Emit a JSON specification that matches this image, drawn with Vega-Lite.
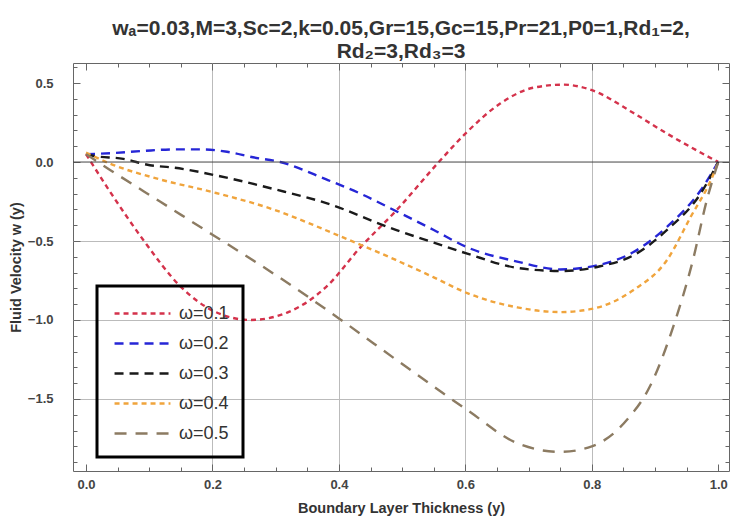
{
  "$schema": "https://vega.github.io/schema/vega-lite/v6.json",
  "autosize": "none",
  "width": 656,
  "height": 408,
  "padding": {"left": 73, "top": 63, "right": 3, "bottom": 53},
  "background": "white",
  "title": {
    "text": ["wₐ=0.03,M=3,Sc=2,k=0.05,Gr=15,Gc=15,Pr=21,P0=1,Rd₁=2,", "Rd₂=3,Rd₃=3"],
    "anchor": "middle",
    "font": "Liberation Sans",
    "fontSize": 21,
    "fontWeight": "bold",
    "color": "#333333",
    "lineHeight": 23,
    "offset": 1
  },
  "config": {
    "view": {"stroke": "#666666", "strokeWidth": 1},
    "axis": {
      "labelFont": "Liberation Sans",
      "labelFontSize": 13,
      "labelFontWeight": "bold",
      "labelColor": "#444444",
      "titleFont": "Liberation Sans",
      "titleFontSize": 14.5,
      "titleFontWeight": "bold",
      "titleColor": "#333333",
      "tickColor": "#666666",
      "gridColor": "#bbbbbb",
      "gridWidth": 1,
      "domain": false
    },
    "legend": {
      "labelFont": "Liberation Sans",
      "labelFontSize": 18,
      "labelColor": "#333333",
      "strokeColor": "#000000"
    }
  },
  "resolve": {"axis": {"x": "independent", "y": "independent"}},
  "layer": [
    {
      "data": {
        "values": [
          {"series": "ω=0.1", "x": 0.0, "y": 0.05},
          {"series": "ω=0.1", "x": 0.04, "y": -0.2},
          {"series": "ω=0.1", "x": 0.09, "y": -0.49},
          {"series": "ω=0.1", "x": 0.15, "y": -0.79},
          {"series": "ω=0.1", "x": 0.2, "y": -0.94},
          {"series": "ω=0.1", "x": 0.26, "y": -1.0},
          {"series": "ω=0.1", "x": 0.32, "y": -0.95},
          {"series": "ω=0.1", "x": 0.38, "y": -0.79},
          {"series": "ω=0.1", "x": 0.434, "y": -0.54},
          {"series": "ω=0.1", "x": 0.49, "y": -0.31},
          {"series": "ω=0.1", "x": 0.558, "y": 0.0},
          {"series": "ω=0.1", "x": 0.6, "y": 0.18},
          {"series": "ω=0.1", "x": 0.655, "y": 0.37},
          {"series": "ω=0.1", "x": 0.707, "y": 0.47},
          {"series": "ω=0.1", "x": 0.755, "y": 0.49},
          {"series": "ω=0.1", "x": 0.8, "y": 0.455},
          {"series": "ω=0.1", "x": 0.866, "y": 0.31},
          {"series": "ω=0.1", "x": 0.919, "y": 0.18},
          {"series": "ω=0.1", "x": 0.972, "y": 0.06},
          {"series": "ω=0.1", "x": 1.0, "y": 0.0},

          {"series": "ω=0.2", "x": 0.0, "y": 0.05},
          {"series": "ω=0.2", "x": 0.043, "y": 0.057},
          {"series": "ω=0.2", "x": 0.09, "y": 0.07},
          {"series": "ω=0.2", "x": 0.138, "y": 0.08},
          {"series": "ω=0.2", "x": 0.185, "y": 0.08},
          {"series": "ω=0.2", "x": 0.223, "y": 0.065},
          {"series": "ω=0.2", "x": 0.264, "y": 0.03},
          {"series": "ω=0.2", "x": 0.307, "y": 0.0},
          {"series": "ω=0.2", "x": 0.38, "y": -0.11},
          {"series": "ω=0.2", "x": 0.434, "y": -0.2},
          {"series": "ω=0.2", "x": 0.49, "y": -0.31},
          {"series": "ω=0.2", "x": 0.55, "y": -0.43},
          {"series": "ω=0.2", "x": 0.603, "y": -0.54},
          {"series": "ω=0.2", "x": 0.682, "y": -0.63},
          {"series": "ω=0.2", "x": 0.75, "y": -0.68},
          {"series": "ω=0.2", "x": 0.813, "y": -0.65},
          {"series": "ω=0.2", "x": 0.866, "y": -0.57},
          {"series": "ω=0.2", "x": 0.919, "y": -0.41},
          {"series": "ω=0.2", "x": 0.972, "y": -0.18},
          {"series": "ω=0.2", "x": 1.0, "y": 0.0},

          {"series": "ω=0.3", "x": 0.0, "y": 0.05},
          {"series": "ω=0.3", "x": 0.011, "y": 0.04},
          {"series": "ω=0.3", "x": 0.059, "y": 0.02},
          {"series": "ω=0.3", "x": 0.101, "y": -0.02},
          {"series": "ω=0.3", "x": 0.138, "y": -0.035},
          {"series": "ω=0.3", "x": 0.212, "y": -0.09},
          {"series": "ω=0.3", "x": 0.296, "y": -0.17},
          {"series": "ω=0.3", "x": 0.38, "y": -0.26},
          {"series": "ω=0.3", "x": 0.49, "y": -0.43},
          {"series": "ω=0.3", "x": 0.55, "y": -0.51},
          {"series": "ω=0.3", "x": 0.603, "y": -0.58},
          {"series": "ω=0.3", "x": 0.682, "y": -0.67},
          {"series": "ω=0.3", "x": 0.75, "y": -0.69},
          {"series": "ω=0.3", "x": 0.813, "y": -0.66},
          {"series": "ω=0.3", "x": 0.866, "y": -0.59},
          {"series": "ω=0.3", "x": 0.919, "y": -0.43},
          {"series": "ω=0.3", "x": 0.972, "y": -0.2},
          {"series": "ω=0.3", "x": 1.0, "y": 0.0},

          {"series": "ω=0.4", "x": 0.0, "y": 0.06},
          {"series": "ω=0.4", "x": 0.038, "y": -0.01},
          {"series": "ω=0.4", "x": 0.117, "y": -0.11},
          {"series": "ω=0.4", "x": 0.2, "y": -0.19},
          {"series": "ω=0.4", "x": 0.296, "y": -0.3},
          {"series": "ω=0.4", "x": 0.402, "y": -0.47},
          {"series": "ω=0.4", "x": 0.49, "y": -0.62},
          {"series": "ω=0.4", "x": 0.55, "y": -0.73},
          {"series": "ω=0.4", "x": 0.603, "y": -0.83},
          {"series": "ω=0.4", "x": 0.682, "y": -0.92},
          {"series": "ω=0.4", "x": 0.75, "y": -0.95},
          {"series": "ω=0.4", "x": 0.8, "y": -0.93},
          {"series": "ω=0.4", "x": 0.866, "y": -0.81},
          {"series": "ω=0.4", "x": 0.919, "y": -0.62},
          {"series": "ω=0.4", "x": 0.956, "y": -0.35},
          {"series": "ω=0.4", "x": 0.99, "y": -0.1},
          {"series": "ω=0.4", "x": 1.0, "y": 0.0},

          {"series": "ω=0.5", "x": 0.0, "y": 0.05},
          {"series": "ω=0.5", "x": 0.038, "y": -0.05},
          {"series": "ω=0.5", "x": 0.117, "y": -0.25},
          {"series": "ω=0.5", "x": 0.2, "y": -0.46},
          {"series": "ω=0.5", "x": 0.275, "y": -0.65},
          {"series": "ω=0.5", "x": 0.328, "y": -0.79},
          {"series": "ω=0.5", "x": 0.4, "y": -0.99},
          {"series": "ω=0.5", "x": 0.497, "y": -1.27},
          {"series": "ω=0.5", "x": 0.603, "y": -1.57},
          {"series": "ω=0.5", "x": 0.682, "y": -1.78},
          {"series": "ω=0.5", "x": 0.75, "y": -1.835},
          {"series": "ω=0.5", "x": 0.8, "y": -1.8},
          {"series": "ω=0.5", "x": 0.856, "y": -1.63},
          {"series": "ω=0.5", "x": 0.892, "y": -1.42},
          {"series": "ω=0.5", "x": 0.929, "y": -1.04},
          {"series": "ω=0.5", "x": 0.96, "y": -0.62},
          {"series": "ω=0.5", "x": 0.982, "y": -0.24},
          {"series": "ω=0.5", "x": 1.0, "y": 0.0}
        ]
      },
      "mark": {"type": "line", "interpolate": "monotone", "strokeWidth": 2.4},
      "encoding": {
        "x": {
          "field": "x",
          "type": "quantitative",
          "scale": {"domain": [-0.0206, 1.017], "nice": false, "zero": false},
          "axis": {
            "orient": "bottom",
            "title": "Boundary Layer Thickness (y)",
            "titlePadding": 10,
            "values": [0, 0.05, 0.1, 0.15, 0.2, 0.25, 0.3, 0.35, 0.4, 0.45, 0.5, 0.55, 0.6, 0.65, 0.7, 0.75, 0.8, 0.85, 0.9, 0.95, 1.0],
            "labelExpr": "abs(datum.value*5 - round(datum.value*5)) < 1e-6 ? format(datum.value, '.1f') : ''",
            "labelPadding": 14,
            "tickSize": {"condition": {"test": "abs(datum.value*5 - round(datum.value*5)) < 1e-6", "value": -7}, "value": -4},
            "grid": true,
            "gridOpacity": {"condition": {"test": "abs(datum.value*5 - round(datum.value*5)) < 1e-6 && datum.value > 0.1 && datum.value < 0.9", "value": 1}, "value": 0}
          }
        },
        "y": {
          "field": "y",
          "type": "quantitative",
          "scale": {"domain": [-1.956, 0.627], "nice": false, "zero": false},
          "axis": {
            "orient": "left",
            "title": "Fluid Velocity w (y)",
            "titlePadding": 4,
            "values": [-1.9, -1.8, -1.7, -1.6, -1.5, -1.4, -1.3, -1.2, -1.1, -1.0, -0.9, -0.8, -0.7, -0.6, -0.5, -0.4, -0.3, -0.2, -0.1, 0, 0.1, 0.2, 0.3, 0.4, 0.5, 0.6],
            "labelExpr": "abs(datum.value*2 - round(datum.value*2)) < 1e-6 ? format(datum.value, '.1f') : ''",
            "labelPadding": 27,
            "tickSize": {"condition": {"test": "abs(datum.value*2 - round(datum.value*2)) < 1e-6", "value": -7}, "value": -4},
            "grid": true,
            "gridOpacity": {"condition": {"test": "abs(datum.value*2 - round(datum.value*2)) < 1e-6 && datum.value < -0.1", "value": 1}, "value": 0}
          }
        },
        "color": {
          "field": "series",
          "type": "nominal",
          "scale": {
            "domain": ["ω=0.1", "ω=0.2", "ω=0.3", "ω=0.4", "ω=0.5"],
            "range": ["#d4324b", "#2626d6", "#1a1a1a", "#f0a43c", "#8c7b62"]
          },
          "legend": {
            "title": null,
            "orient": "none",
            "legendX": 24,
            "legendY": 223,
            "symbolType": "M-2.33,0L2.33,0",
            "symbolSize": 576,
            "symbolStrokeWidth": 2.5,
            "symbolOffset": 18,
            "labelOffset": 23,
            "rowPadding": 7,
            "padding": 14,
            "strokeColor": "#000000",
            "encode": {"legend": {"update": {"strokeWidth": {"value": 3}}}}
          }
        },
        "strokeDash": {
          "field": "series",
          "type": "nominal",
          "scale": {
            "domain": ["ω=0.1", "ω=0.2", "ω=0.3", "ω=0.4", "ω=0.5"],
            "range": [[5, 4], [9, 6], [9, 6], [5, 4], [12, 9]]
          },
          "legend": {
            "title": null,
            "orient": "none",
            "legendX": 24,
            "legendY": 223,
            "symbolType": "M-2.33,0L2.33,0",
            "symbolSize": 576,
            "symbolStrokeWidth": 2.5,
            "symbolOffset": 18,
            "labelOffset": 23,
            "rowPadding": 7,
            "padding": 14,
            "strokeColor": "#000000",
            "encode": {"legend": {"update": {"strokeWidth": {"value": 3}}}}
          }
        }
      }
    },
    {
      "data": {"values": [{"x0": -0.0206, "x1": 1.017, "y": 0}]},
      "mark": {"type": "rule", "color": "#444444", "strokeWidth": 1},
      "encoding": {
        "x": {
          "field": "x0",
          "type": "quantitative",
          "axis": {
            "orient": "top",
            "title": null,
            "values": [0, 0.05, 0.1, 0.15, 0.2, 0.25, 0.3, 0.35, 0.4, 0.45, 0.5, 0.55, 0.6, 0.65, 0.7, 0.75, 0.8, 0.85, 0.9, 0.95, 1.0],
            "labels": false,
            "grid": false,
            "tickSize": {"condition": {"test": "abs(datum.value*5 - round(datum.value*5)) < 1e-6", "value": -7}, "value": -4}
          }
        },
        "x2": {"field": "x1"},
        "y": {
          "field": "y",
          "type": "quantitative",
          "axis": {
            "orient": "right",
            "title": null,
            "values": [-1.9, -1.8, -1.7, -1.6, -1.5, -1.4, -1.3, -1.2, -1.1, -1.0, -0.9, -0.8, -0.7, -0.6, -0.5, -0.4, -0.3, -0.2, -0.1, 0, 0.1, 0.2, 0.3, 0.4, 0.5, 0.6],
            "labels": false,
            "grid": false,
            "tickSize": {"condition": {"test": "abs(datum.value*2 - round(datum.value*2)) < 1e-6", "value": -7}, "value": -4}
          }
        }
      }
    }
  ]
}
